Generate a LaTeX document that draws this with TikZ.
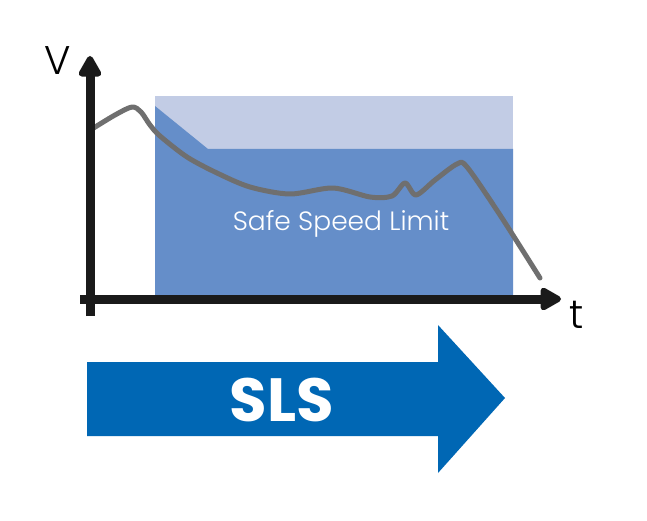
\documentclass[tikz,border=0pt]{standalone}
\usepackage{fontspec}
\setmainfont{Poppins}
\IfFontExistsTF{Poppins Light}{\newfontfamily\lightfont{Poppins Light}}{\newfontfamily\lightfont{Poppins}}
\usetikzlibrary{arrows.meta}
\definecolor{lightband}{HTML}{C2CCE5}
\definecolor{safeblue}{HTML}{658EC9}
\definecolor{curvegray}{HTML}{6F6F6F}
\definecolor{slsblue}{HTML}{0067B4}
\definecolor{axisblack}{HTML}{1A1A1A}
\begin{document}
\begin{tikzpicture}[x=1pt,y=-1pt,
  axisline/.style={draw=axisblack,line width=9pt,-{Triangle[length=24pt,width=25pt,round]}},
  lbl/.style={inner sep=0pt,text=black}]
\useasboundingbox (0,0) rectangle (647,521);
\fill[white] (0,0) rectangle (647,521);
% limit zones
\fill[lightband] (155,96) rectangle (513,296);
\fill[safeblue] (155,106) -- (208,149) -- (513,149) -- (513,296) -- (155,296) -- cycle;
\node[text=white,font=\lightfont\fontsize{26.5}{26.5}\selectfont] (safe) at (341,224) {Safe Speed Limit};
% speed curve
\draw[curvegray,line width=5pt,line join=round,line cap=round]
  plot[smooth,tension=0.5] coordinates {(92,129) (115,115) (132,107) (141,112) (150,125) (160,136) (187,157) (217,173) (250,187) (290,194) (333,188) (370,197) (392,196) (405,183) (416,195) (435,180) (457,164) (467,167) (500,215) (540,278)};
% axes
\coordinate (ybot) at (90,316);
\coordinate (ytop) at (90,56);
\coordinate (xleft) at (80,299);
\coordinate (xright) at (561,299);
\draw[axisline] (ybot) -- (ytop);
\draw[axisline] (xleft) -- (xright);
\node[lbl,font=\lightfont\fontsize{40}{40}\selectfont] (vlab) at (58,61) {V};
\node[lbl,font=\lightfont\fontsize{40}{40}\selectfont] (tlab) at (577,315) {t};
% SLS arrow
\fill[slsblue] (87,362) -- (438,362) -- (438,325) -- (505,398) -- (438,473) -- (438,436) -- (87,436) -- cycle;
\node[text=white,font=\fontsize{61}{61}\selectfont\bfseries] (sls) at (282,400) {SLS};
\end{tikzpicture}
\end{document}
